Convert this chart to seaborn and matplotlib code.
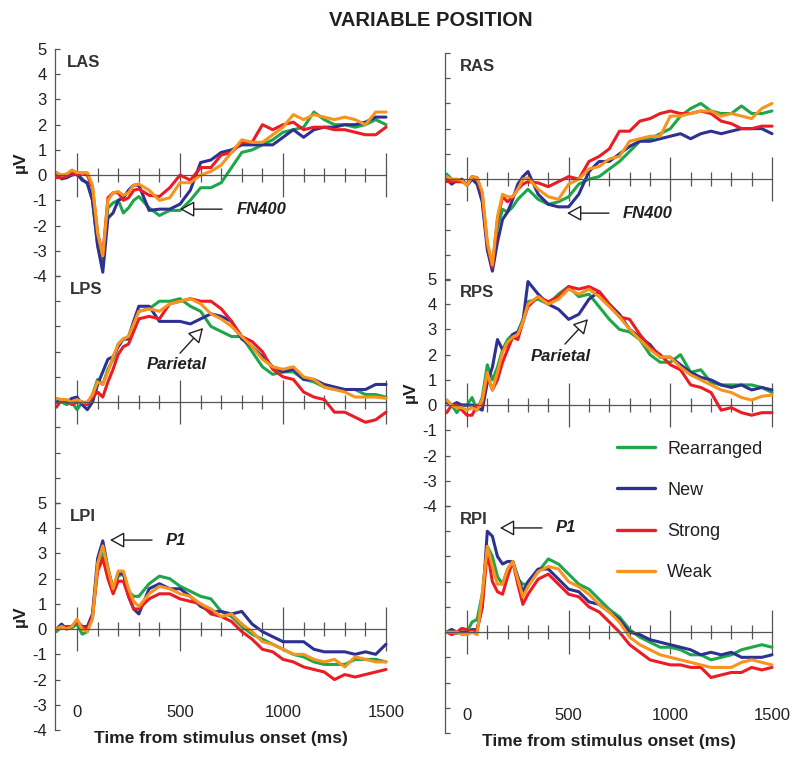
import numpy as np
import pandas as pd
import seaborn as sns
import matplotlib.pyplot as plt
from matplotlib.lines import Line2D
sns.set_style('white')
plt.rcParams['font.family'] = ['Liberation Sans', 'DejaVu Sans']
plt.rcParams['axes.unicode_minus'] = False

# time points (ms)
TIME = [-100, -75, -50, -25, 0, 25, 50, 75, 100, 125, 150, 175, 200, 225, 250, 275, 300,
        350, 400, 450, 500, 550, 600, 650, 700, 750, 800, 850, 900, 950, 1000, 1050, 1100,
        1150, 1200, 1250, 1300, 1350, 1400, 1450, 1500]

CONDITIONS = ['Rearranged', 'New', 'Strong', 'Weak']
COLORS = ['#1fa64a', '#2e3192', '#ec1c24', '#f7941d']

# LAS
las_rearr = [0.05, 0.0, -0.1, 0.1, 0.05, -0.15, -0.35, -1.0, -2.8, -3.6, -1.3, -1.1, -1.0, -1.5, -1.3, -1.0, -0.85,
             -1.3, -1.6, -1.4, -1.4, -1.0, -0.5, -0.5, -0.3, 0.3, 0.9, 1.0, 1.2, 1.4, 1.7, 1.8, 1.9, 2.5, 2.2, 2.0, 2.0, 1.9, 2.0, 2.2, 2.0]
las_new = [0.1, -0.15, -0.1, 0.0, 0.05, -0.2, -0.3, -1.0, -2.8, -3.85, -1.7, -1.5, -1.0, -0.9, -0.6, -0.4, -0.4,
           -1.4, -1.35, -1.35, -1.15, -0.6, 0.5, 0.6, 0.9, 1.0, 1.2, 1.2, 1.2, 1.2, 1.5, 1.8, 1.5, 1.8, 1.9, 1.9, 2.0, 2.0, 2.1, 2.3, 2.3]
las_strong = [-0.1, -0.1, -0.05, 0.1, 0.0, 0.1, 0.0, -0.5, -2.3, -3.2, -0.9, -0.7, -0.7, -1.0, -0.9, -0.6, -0.55,
              -0.8, -0.85, -0.5, 0.0, -0.2, 0.3, 0.3, 0.8, 0.9, 1.3, 1.3, 2.0, 1.8, 2.0, 2.1, 1.8, 1.9, 1.9, 1.8, 1.8, 1.7, 1.6, 1.6, 1.9]
las_weak = [0.1, 0.0, 0.05, 0.2, 0.1, 0.1, 0.1, -0.4, -2.3, -3.2, -1.0, -0.7, -0.65, -0.8, -0.7, -0.4, -0.35,
            -0.6, -1.0, -0.9, -0.3, -0.3, 0.0, 0.15, 0.4, 0.9, 1.4, 1.3, 1.3, 1.6, 1.9, 2.4, 2.2, 2.4, 2.3, 2.2, 2.3, 2.2, 2.0, 2.5, 2.5]

# RAS
ras_rearr = [0.2, 0.0, -0.1, -0.1, -0.2, 0.0, 0.0, -0.8, -2.6, -3.5, -1.9, -1.2, -1.3, -1.1, -0.8, -0.6, -0.4,
             -0.8, -1.0, -0.9, -0.7, -0.2, 0.0, 0.1, 0.4, 0.7, 1.1, 1.5, 1.6, 1.8, 2.0, 2.5, 2.8, 3.0, 2.7, 2.6, 2.6, 2.9, 2.6, 2.6, 2.7]
ras_new = [0.0, -0.2, -0.05, 0.0, -0.25, 0.0, -0.2, -0.9, -2.8, -3.65, -2.5, -1.6, -1.3, -0.8, -0.2, 0.1, 0.3,
           -0.6, -1.0, -1.1, -1.1, -0.6, 0.3, 0.7, 0.7, 1.0, 1.3, 1.5, 1.5, 1.6, 1.7, 1.8, 1.6, 1.8, 1.9, 1.8, 1.9, 2.0, 2.0, 2.0, 1.8]
ras_strong = [-0.1, -0.1, -0.1, -0.1, -0.2, 0.1, 0.05, -0.6, -2.6, -3.5, -1.6, -0.7, -0.9, -0.7, -0.4, -0.2, -0.1,
              -0.15, -0.3, -0.1, 0.1, 0.0, 0.7, 0.9, 1.2, 1.9, 1.9, 2.3, 2.4, 2.6, 2.7, 2.6, 2.6, 2.7, 2.6, 2.3, 2.2, 2.0, 2.0, 2.1, 2.1]
ras_weak = [0.1, 0.0, 0.0, -0.05, -0.25, 0.1, 0.05, -0.5, -2.5, -3.4, -1.5, -0.6, -0.7, -0.7, -0.4, 0.0, 0.05,
            -0.4, -0.7, -0.8, -0.2, 0.0, 0.4, 0.5, 0.8, 0.9, 1.5, 1.6, 1.7, 1.7, 2.5, 2.5, 2.6, 2.7, 2.7, 2.5, 2.6, 2.5, 2.4, 2.8, 3.0]

# LPS
lps_rearr = [0.0, 0.0, -0.1, 0.0, -0.3, 0.0, -0.1, 0.3, 0.9, 0.7, 1.3, 1.7, 2.3, 2.5, 2.6, 3.2, 3.6,
             3.7, 4.0, 4.0, 4.1, 3.8, 3.6, 3.0, 2.8, 2.6, 2.6, 2.0, 1.4, 1.1, 1.2, 1.2, 0.9, 0.8, 0.6, 0.5, 0.5, 0.5, 0.3, 0.3, 0.2]
lps_new = [0.0, 0.1, 0.0, 0.15, 0.2, -0.1, -0.3, 0.0, 0.7, 1.2, 1.7, 1.8, 2.2, 2.5, 2.5, 3.2, 3.8,
           3.8, 3.2, 3.2, 3.2, 3.1, 3.3, 3.5, 3.4, 3.2, 2.5, 2.2, 1.8, 1.4, 1.2, 1.3, 0.9, 0.9, 0.7, 0.6, 0.5, 0.5, 0.5, 0.7, 0.7]
lps_strong = [-0.2, 0.1, 0.05, -0.1, 0.0, 0.0, -0.1, 0.2, 0.4, 0.2, 0.8, 1.3, 1.9, 2.2, 2.3, 2.8, 3.3,
              3.4, 3.3, 3.9, 4.0, 4.1, 4.0, 4.0, 3.7, 3.2, 2.6, 2.4, 2.0, 1.3, 1.0, 0.9, 0.4, 0.2, 0.1, -0.4, -0.4, -0.6, -0.8, -0.7, -0.4]
lps_weak = [0.15, 0.1, 0.1, 0.0, 0.1, 0.0, 0.0, 0.3, 0.8, 0.7, 1.2, 1.8, 2.3, 2.5, 2.6, 3.1, 3.6,
            3.7, 3.6, 3.9, 4.0, 4.1, 3.9, 3.5, 3.3, 3.0, 2.6, 2.2, 1.7, 1.4, 1.3, 1.4, 1.0, 0.9, 0.6, 0.5, 0.4, 0.2, 0.2, 0.2, 0.15]

# RPS
rps_rearr = [0.2, 0.0, -0.3, 0.0, 0.0, 0.3, -0.2, 0.3, 1.6, 1.0, 1.5, 2.2, 2.6, 2.8, 2.9, 3.4, 4.1,
             4.2, 4.0, 4.4, 4.7, 4.3, 4.4, 3.9, 3.4, 3.0, 2.9, 2.6, 2.0, 1.7, 1.7, 2.0, 1.3, 1.4, 0.9, 0.8, 0.8, 0.8, 0.8, 0.7, 0.5]
rps_new = [0.1, 0.0, 0.1, 0.0, 0.0, 0.0, -0.1, -0.2, 0.9, 1.5, 2.6, 2.2, 2.4, 2.8, 2.9, 3.3, 4.9,
           4.4, 4.0, 3.8, 3.4, 3.6, 4.2, 4.5, 4.0, 3.6, 3.0, 2.7, 2.4, 1.9, 1.9, 1.6, 1.3, 1.1, 1.0, 0.8, 0.7, 0.8, 0.6, 0.7, 0.6]
rps_strong = [-0.3, 0.0, 0.0, -0.2, -0.4, -0.4, 0.0, 0.0, 1.2, 0.6, 1.0, 1.7, 2.2, 2.7, 2.6, 3.3, 3.9,
              4.3, 4.1, 4.3, 4.7, 4.6, 4.7, 4.5, 4.0, 3.5, 3.4, 2.8, 2.3, 2.0, 1.6, 1.4, 0.8, 0.7, 0.5, -0.2, -0.1, -0.3, -0.4, -0.3, -0.3]
rps_weak = [0.2, 0.0, -0.1, -0.1, -0.2, -0.1, -0.2, 0.2, 1.3, 0.6, 1.3, 2.1, 2.5, 2.7, 2.8, 3.3, 4.0,
            4.3, 4.0, 4.2, 4.6, 4.4, 4.6, 4.3, 3.9, 3.5, 3.0, 2.6, 2.2, 1.9, 1.9, 1.5, 1.2, 1.0, 0.8, 0.6, 0.5, 0.3, 0.2, 0.35, 0.4]

# LPI
lpi_rearr = [-0.1, 0.1, 0.1, 0.05, 0.2, -0.2, -0.1, 0.5, 2.5, 3.0, 2.4, 1.5, 2.1, 2.2, 1.5, 1.3, 1.3,
             1.8, 2.1, 2.0, 1.7, 1.5, 1.3, 1.2, 0.7, 0.5, 0.1, -0.2, -0.4, -0.6, -0.8, -1.0, -1.1, -1.3, -1.4, -1.4, -1.4, -1.2, -1.2, -1.2, -1.3]
lpi_new = [0.0, 0.2, 0.0, 0.1, 0.3, 0.1, 0.1, 0.6, 2.8, 3.5, 2.4, 1.6, 2.2, 2.2, 1.3, 0.8, 0.6,
           1.6, 1.8, 1.6, 1.6, 1.3, 0.9, 0.7, 0.7, 0.6, 0.7, 0.2, -0.1, -0.3, -0.5, -0.5, -0.5, -0.8, -0.9, -0.9, -0.9, -1.0, -0.9, -1.0, -0.6]
lpi_strong = [0.0, 0.1, 0.1, 0.1, 0.3, 0.1, 0.0, 0.5, 2.3, 2.8, 2.0, 1.4, 1.9, 1.9, 1.3, 0.8, 0.8,
              1.2, 1.4, 1.4, 1.2, 1.1, 1.0, 0.6, 0.5, 0.3, -0.1, -0.4, -0.8, -0.9, -1.2, -1.3, -1.5, -1.6, -1.7, -2.0, -1.8, -1.9, -1.8, -1.7, -1.6]
lpi_weak = [0.0, 0.1, 0.0, 0.1, 0.4, 0.0, -0.1, 0.4, 2.6, 3.3, 2.4, 1.6, 2.3, 2.3, 1.6, 1.1, 0.9,
            1.4, 1.7, 1.6, 1.4, 1.3, 1.0, 0.8, 0.5, 0.6, 0.2, -0.1, -0.5, -0.6, -0.8, -1.0, -1.0, -1.2, -1.3, -1.2, -1.5, -1.1, -1.2, -1.3, -1.3]

# RPI
rpi_rearr = [0.0, 0.1, -0.05, 0.0, 0.0, 0.4, 0.5, 1.5, 3.4, 3.0, 2.2, 1.9, 2.5, 2.8, 2.1, 1.9, 1.9,
             2.4, 2.9, 2.7, 2.3, 1.9, 1.7, 1.3, 0.9, 0.6, 0.1, -0.2, -0.4, -0.6, -0.6, -0.7, -0.9, -0.9, -1.1, -1.0, -0.9, -0.7, -0.6, -0.5, -0.6]
rpi_new = [0.0, 0.1, 0.0, 0.0, 0.0, 0.1, 0.1, 1.0, 4.0, 3.8, 3.0, 2.7, 2.8, 2.8, 2.2, 1.6, 2.0,
           2.5, 2.5, 2.1, 1.7, 1.6, 1.2, 1.1, 0.8, 0.5, 0.0, -0.1, -0.3, -0.4, -0.5, -0.6, -0.7, -0.9, -0.8, -0.9, -0.8, -1.0, -1.0, -1.0, -0.9]
rpi_strong = [0.0, -0.1, 0.0, 0.15, 0.1, 0.0, 0.1, 1.0, 3.2, 2.0, 1.6, 1.5, 2.2, 2.8, 1.9, 1.1, 1.5,
              2.1, 2.3, 1.9, 1.5, 1.4, 1.0, 0.8, 0.4, 0.0, -0.5, -0.8, -1.1, -1.2, -1.3, -1.3, -1.4, -1.4, -1.8, -1.7, -1.6, -1.6, -1.4, -1.5, -1.4]
rpi_weak = [0.0, 0.0, 0.0, -0.1, -0.1, 0.0, -0.1, 1.5, 3.4, 2.6, 1.9, 1.9, 2.5, 2.8, 2.1, 1.4, 1.8,
            2.4, 2.6, 2.5, 2.0, 1.8, 1.5, 1.1, 0.8, 0.4, -0.2, -0.5, -0.7, -0.9, -1.0, -1.1, -1.2, -1.3, -1.4, -1.4, -1.4, -1.2, -1.1, -1.2, -1.3]


def panel_df(series):
    rows = []
    for cond, vals in zip(CONDITIONS, series):
        for t, v in zip(TIME, vals):
            rows.append((t, v, cond))
    return pd.DataFrame(rows, columns=['time', 'uV', 'condition'])


INK = '#231f20'
AXC = '#555555'

fig = plt.figure(figsize=(8, 7.6), dpi=100)

# left, bottom, width, xmin, name, data, show y labels, bottom row
panels = [
    (0.06875, 0.63684, 0.41375, -107, 'LAS', [las_rearr, las_new, las_strong, las_weak], True, False),
    (0.06875, 0.33816, 0.41375, -107, 'LPS', [lps_rearr, lps_new, lps_strong, lps_weak], False, False),
    (0.06875, 0.03947, 0.41375, -107, 'LPI', [lpi_rearr, lpi_new, lpi_strong, lpi_weak], True, True),
    (0.55625, 0.63158, 0.40875, -108, 'RAS', [ras_rearr, ras_new, ras_strong, ras_weak], False, False),
    (0.55625, 0.33421, 0.40875, -108, 'RPS', [rps_rearr, rps_new, rps_strong, rps_weak], True, False),
    (0.55625, 0.03553, 0.40875, -108, 'RPI', [rpi_rearr, rpi_new, rpi_strong, rpi_weak], False, True),
]
H = 227 / 760

axes = {}
for left, bottom, width, xmin, name, series, ylab, last in panels:
    ax = fig.add_axes([left, bottom, width, H])
    ax.patch.set_visible(False)
    df = panel_df(series)
    sns.lineplot(data=df, x='time', y='uV', hue='condition', hue_order=CONDITIONS,
                 palette=COLORS, estimator=None, linewidth=2.2, legend=False, ax=ax)
    for ln in ax.lines:
        ln.set_clip_on(False)
    ax.set_xlim(xmin, 1500)
    ax.set_ylim(-4, 5)
    for s in ['top', 'right']:
        ax.spines[s].set_visible(False)
    ax.spines['left'].set_color(AXC)
    ax.spines['left'].set_linewidth(0.9)
    ax.spines['bottom'].set_position(('data', 0))
    ax.spines['bottom'].set_color(AXC)
    ax.spines['bottom'].set_linewidth(0.9)
    ax.set_xticks([0, 500, 1000, 1500])
    ax.set_xticks([t for t in range(100, 1500, 100) if t % 500], minor=True)
    ax.set_yticks(range(-4, 6))
    ax.tick_params(axis='x', which='major', bottom=True, direction='inout', length=31.7, width=0.9,
                   color=AXC, labelsize=12, labelcolor=INK, pad=39, labelbottom=last)
    ax.tick_params(axis='x', which='minor', bottom=True, direction='inout', length=10, width=0.9,
                   color=AXC)
    ax.tick_params(axis='y', left=True, direction='in', length=3.6, width=0.9, color=AXC,
                   labelsize=12, labelcolor=INK, pad=6, labelleft=ylab)
    ax.set_ylabel('µV' if ylab else '', fontsize=12.5, fontweight='bold', color=INK, labelpad=3)
    if last:
        ax.set_xlabel('Time from stimulus onset (ms)', fontsize=12.5, fontweight='bold',
                      color=INK, labelpad=8)
    else:
        ax.set_xlabel('')
    ax.text(-50 if name == 'LAS' else -36, 4.45, name, fontsize=12, fontweight='bold',
            color='#333333', ha='left', va='center')
    axes[name] = ax

arrow = dict(arrowstyle='-|>,head_length=0.4,head_width=0.22', mutation_scale=22,
             fc='white', ec=INK, lw=1, shrinkA=0, shrinkB=0)
lab = dict(fontsize=12, fontweight='bold', fontstyle='italic', color=INK, va='center')

axes['LAS'].annotate('', xy=(500, -1.35), xytext=(704, -1.35), arrowprops=arrow)
axes['LAS'].text(777, -1.35, 'FN400', ha='left', **lab)
axes['RAS'].annotate('', xy=(492, -1.35), xytext=(698, -1.35), arrowprops=arrow)
axes['RAS'].text(767, -1.35, 'FN400', ha='left', **lab)
axes['LPS'].annotate('', xy=(612, 2.94), xytext=(500, 1.94), arrowprops=arrow)
axes['LPS'].text(485, 1.5, 'Parietal', ha='center', **lab)
axes['RPS'].annotate('', xy=(595, 3.41), xytext=(482, 2.42), arrowprops=arrow)
axes['RPS'].text(463, 1.94, 'Parietal', ha='center', **lab)
axes['LPI'].annotate('', xy=(160, 3.53), xytext=(364, 3.53), arrowprops=arrow)
axes['LPI'].text(432, 3.53, 'P1', ha='left', **lab)
axes['RPI'].annotate('', xy=(162, 4.13), xytext=(369, 4.13), arrowprops=arrow)
axes['RPI'].text(438, 4.13, 'P1', ha='left', **lab)

handles = [Line2D([0], [0], color=c, lw=2.4) for c in COLORS]
fig.legend(handles, CONDITIONS, loc='upper left', bbox_to_anchor=(0.771, 0.42),
           frameon=False, fontsize=13, handlelength=2.1, handletextpad=0.7,
           labelspacing=1.33, borderpad=0, borderaxespad=0, labelcolor=INK)

fig.text(0.539, 1 - 20 / 760, 'VARIABLE POSITION', ha='center', va='center',
         fontsize=14.5, fontweight='bold', color=INK)

plt.savefig('out.png', dpi=100)
